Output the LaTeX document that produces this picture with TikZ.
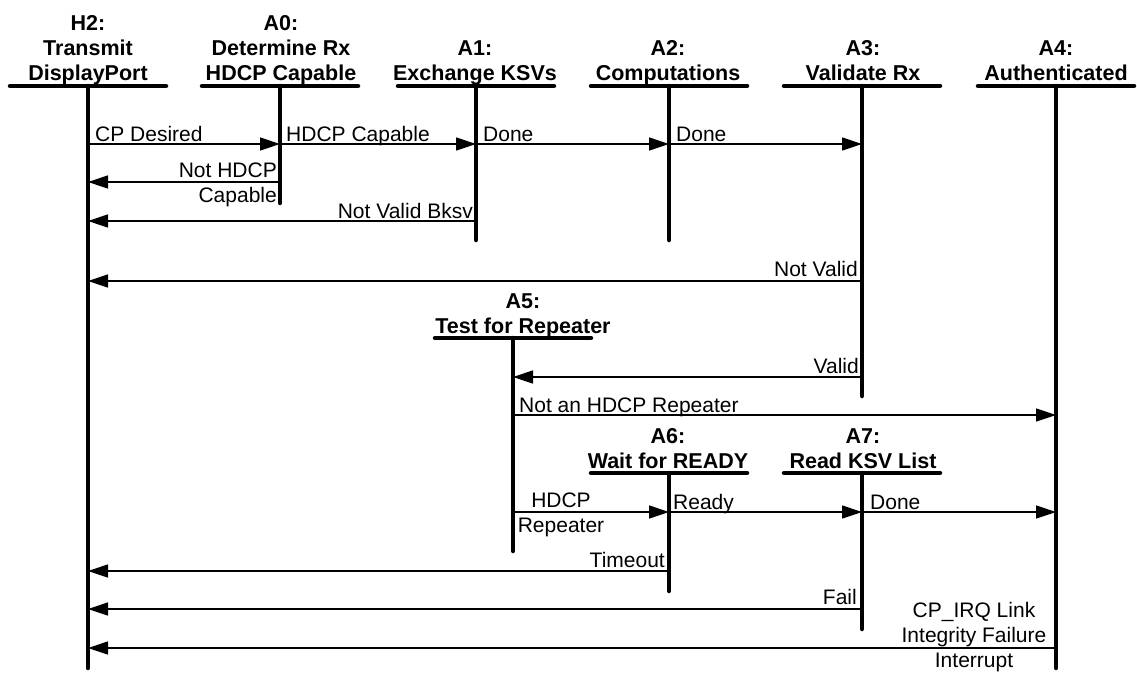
\documentclass[tikz,border=0pt]{standalone}
\usepackage{fontspec}
\setmainfont{Liberation Sans}
\usetikzlibrary{arrows.meta}
\begin{document}
\begin{tikzpicture}[x=1pt,y=-1pt,
  hbar/.style={line width=4.5pt, line cap=round},
  life/.style={line width=4.5pt, line cap=round},
  msg/.style={line width=1.4pt, -{Triangle[length=20pt,width=13pt]}},
  hdr/.style={anchor=base, inner sep=0pt, font=\bfseries\fontsize{21.5}{25}\selectfont},
  lbl/.style={inner sep=0pt, font=\fontsize{21}{25}\selectfont},
]
\useasboundingbox (0,0) rectangle (1137,672);

% lifeline tops
\coordinate (H2) at (88,86);
\coordinate (A0) at (280,86);
\coordinate (A1) at (476,86);
\coordinate (A2) at (669,86);
\coordinate (A3) at (862,86);
\coordinate (A4) at (1056,86);
\coordinate (A5) at (513,338);
\coordinate (A6) at (669,473);
\coordinate (A7) at (862,473);
% lifeline ends
\coordinate (H2e) at (88,668);
\coordinate (A0e) at (280,203);
\coordinate (A1e) at (476,240);
\coordinate (A2e) at (669,240);
\coordinate (A3e) at (862,396);
\coordinate (A4e) at (1056,668);
\coordinate (A5e) at (513,551);
\coordinate (A6e) at (669,591);
\coordinate (A7e) at (862,629);

% headers
\node[hdr] (tH2) at (88,80) {\begin{tabular}[b]{@{}c@{}}H2:\\Transmit\\DisplayPort\end{tabular}};
\node[hdr] (tA0) at (281,80) {\begin{tabular}[b]{@{}c@{}}A0:\\Determine Rx\\HDCP Capable\end{tabular}};
\node[hdr] (tA1) at (475,80) {\begin{tabular}[b]{@{}c@{}}A1:\\Exchange KSVs\end{tabular}};
\node[hdr] (tA2) at (668,80) {\begin{tabular}[b]{@{}c@{}}A2:\\Computations\end{tabular}};
\node[hdr] (tA3) at (863,80) {\begin{tabular}[b]{@{}c@{}}A3:\\Validate Rx\end{tabular}};
\node[hdr] (tA4) at (1056,80) {\begin{tabular}[b]{@{}c@{}}A4:\\Authenticated\end{tabular}};
\node[hdr] (tA5) at (523,333.5) {\begin{tabular}[b]{@{}c@{}}A5:\\Test for Repeater\end{tabular}};
\node[hdr] (tA6) at (668,468) {\begin{tabular}[b]{@{}c@{}}A6:\\Wait for READY\end{tabular}};
\node[hdr] (tA7) at (863,468) {\begin{tabular}[b]{@{}c@{}}A7:\\Read KSV List\end{tabular}};

% messages
\draw[msg] (H2 |- 0,144) -- (A0 |- 0,144);
\draw[msg] (A0 |- 0,144) -- (A1 |- 0,144);
\draw[msg] (A1 |- 0,144) -- (A2 |- 0,144);
\draw[msg] (A2 |- 0,144) -- (A3 |- 0,144);
\draw[msg] (A0 |- 0,182) -- (H2 |- 0,182);
\draw[msg] (A1 |- 0,221) -- (H2 |- 0,221);
\draw[msg] (A3 |- 0,281) -- (H2 |- 0,281);
\draw[msg] (A3 |- 0,377) -- (A5 |- 0,377);
\draw[msg] (A5 |- 0,415) -- (A4 |- 0,415);
\draw[msg] (A5 |- 0,512) -- (A6 |- 0,512);
\draw[msg] (A6 |- 0,512) -- (A7 |- 0,512);
\draw[msg] (A7 |- 0,512) -- (A4 |- 0,512);
\draw[msg] (A6 |- 0,571) -- (H2 |- 0,571);
\draw[msg] (A7 |- 0,609) -- (H2 |- 0,609);
\draw[msg] (A4 |- 0,648) -- (H2 |- 0,648);

% lifelines and header bars
\foreach \n in {H2,A0,A1,A2,A3,A4,A5,A6,A7} {
  \draw[life] (\n) -- (\n e);
  \draw[hbar] ([xshift=-78pt]\n) -- ([xshift=78pt]\n);
}

% labels
\node[lbl, anchor=base west] (m1) at (95,141.5) {CP Desired};
\node[lbl, anchor=base west] (m2) at (286,141.5) {HDCP Capable};
\node[lbl, anchor=base west] (m3) at (483,141.5) {Done};
\node[lbl, anchor=base west] (m4) at (676,141.5) {Done};
\node[lbl, anchor=base east] (m5) at (277,202) {\begin{tabular}[b]{@{}r@{}}Not HDCP\\Capable\end{tabular}};
\node[lbl, anchor=base east] (m6) at (473,218) {Not Valid Bksv};
\node[lbl, anchor=base east] (m7) at (858,276.5) {Not Valid};
\node[lbl, anchor=base east] (m8) at (859,373) {Valid};
\node[lbl, anchor=base west] (m9) at (519,412) {Not an HDCP Repeater};
\node[lbl, anchor=base] (m10) at (561,532) {\begin{tabular}[b]{@{}c@{}}HDCP\\Repeater\end{tabular}};
\node[lbl, anchor=base west] (m11) at (673,509) {Ready};
\node[lbl, anchor=base west] (m12) at (870,509) {Done};
\node[lbl, anchor=base east] (m13) at (665,567.5) {Timeout};
\node[lbl, anchor=base east] (m14) at (857,604) {Fail};
\node[lbl, anchor=base] (m15) at (974,667) {\begin{tabular}[b]{@{}c@{}}CP\_IRQ Link\\Integrity Failure\\Interrupt\end{tabular}};
\end{tikzpicture}
\end{document}
